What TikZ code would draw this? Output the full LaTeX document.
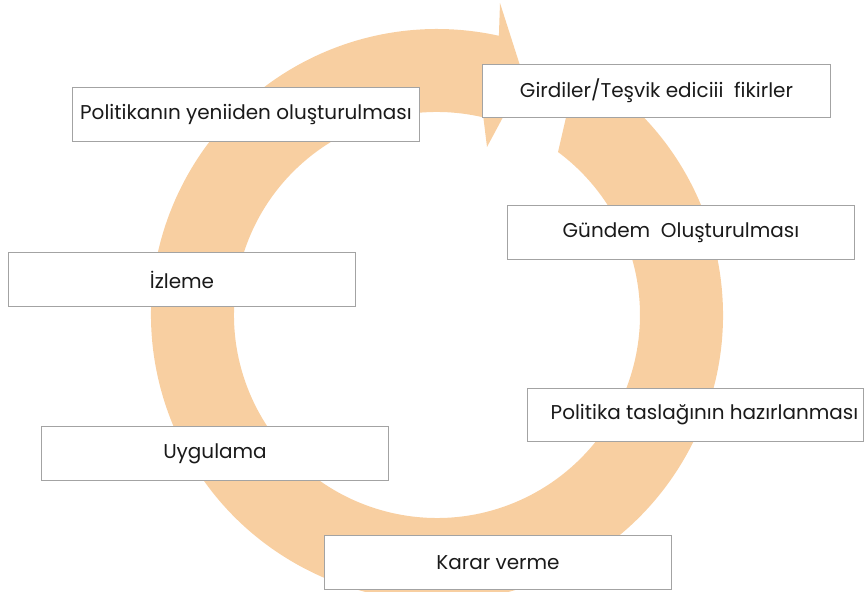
\documentclass[tikz,border=0pt]{standalone}
\usepackage{fontspec}
\setmainfont{Poppins}
\usepackage{xcolor}
\usetikzlibrary{calc}
\definecolor{ringorange}{HTML}{F8CFA1}
\definecolor{boxgray}{HTML}{A3A3A3}
\definecolor{textdark}{HTML}{1A1A1A}

\tikzset{
  stagebox/.style={draw=boxgray, fill=white, line width=0.8pt, inner sep=0pt,
    minimum width=8.68cm, minimum height=1.33cm, text=textdark,
    font=\fontsize{14.2}{16}\selectfont}
}

\begin{document}
\begin{tikzpicture}[x=0.025cm,y=0.025cm]
  \useasboundingbox (0,0) rectangle (864,592);
  \clip (0,0) rectangle (864,592);
  % circular arrow
  \coordinate (mid) at (437,277);
  \fill [ringorange] ($(mid)+(60.5:286)$) arc [start angle=60.5, end angle=-282.5, radius=286]
    -- (500,589) -- (524,514) -- (487,445)
    -- ($(mid)+(76.8:203)$) arc [start angle=-283.2, end angle=53.4, radius=203] -- cycle;
  % stages
  \node [stagebox] (renew) at (246,477.5) {Politikanın yeniiden oluşturulması};
  \node [stagebox] (input) at (656.5,501) {Girdiler/Teşvik ediciii\ \ fikirler\hspace{0.6em}};
  \node [stagebox] (agenda) at (681,359.5) {Gündem\ \ Oluşturulması};
  \node [stagebox] (monitor) at (182,312.5) {İzleme\hspace{0.9em}};
  \node [stagebox, minimum width=8.38cm] (draft) at (695.5,177) {\hspace{0.9em}Politika taslağının hazırlanması};
  \node [stagebox] (apply) at (215,138.5) {Uygulama\hspace{1.2em}};
  \node [stagebox] (decide) at (498,29.5) {Karar verme\hspace{0.5em}};
\end{tikzpicture}
\end{document}
